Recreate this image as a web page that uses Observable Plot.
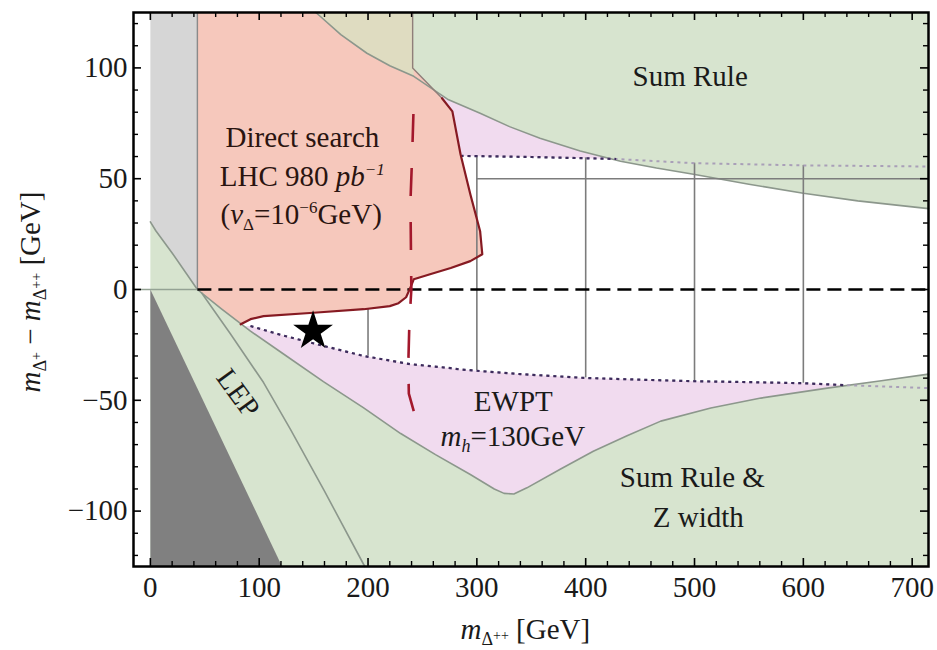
<!DOCTYPE html>
<html>
<head>
<meta charset="utf-8">
<script src="https://cdn.jsdelivr.net/npm/d3@7"></script>
<script src="https://cdn.jsdelivr.net/npm/@observablehq/plot@0.6"></script>
<style>
  body { margin: 0; background: #fff; }
</style>
</head>
<body>
<div id="chart"></div>
<script>
// Axis ranges (GeV)
const xRange = [-15.5, 715];
const yRange = [-125, 125];

// Sum Rule boundary (upper excluded region)
const sumRuleX = [152, 156, 175, 199, 220, 242, 273, 303, 330, 358, 395, 432, 465, 499, 550, 600, 650, 715];
const sumRuleY = [125, 123.3, 115, 106.6, 101, 96.2, 85.9, 79.5, 73.5, 68.3, 62.5, 57.9, 54.8, 52, 47.5, 43.4, 40, 36.5];

// Sum Rule & Z width boundary (lower excluded region)
const zWidthX = [0, 5, 20, 43.2, 65, 92, 125, 159, 196, 230, 262, 294, 316, 325, 334, 346, 377, 407, 438, 469, 515, 561, 622, 670, 715];
const zWidthY = [30.5, 26.5, 16.5, 0, -8.6, -18.8, -30, -41.6, -53.4, -65, -74.5, -83.5, -90, -92, -92.3, -89.5, -81, -73, -66, -59.4, -53.5, -49, -44.5, -41.3, -38.2];

// LEP bound
const lepX = [47, 73.5, 104, 128.6, 160, 197];
const lepY = [-1.5, -20, -42, -63, -91, -125];

// Unphysical corner (m_Δ+ < 0)
const darkX = [0, 121, 0];
const darkY = [0, -125, -125];

// Light gray strip
const stripX = [0, 43.2];

// EWPT (m_h = 130 GeV) upper and lower limits
const ewptUpX = [285, 350, 428, 500, 600, 715];
const ewptUpY = [60.3, 59.8, 58.9, 57, 56, 55.5];
const ewptUpEnd = 428;
const ewptLowX = [92, 120, 153, 196, 239, 276, 285, 340, 399, 450, 501, 550, 600, 640, 715];
const ewptLowY = [-16.5, -20.5, -24.7, -30, -33.7, -35.5, -36.1, -38.2, -39.9, -40.7, -41.4, -41.8, -42.3, -43.2, -44.5];
const ewptLowEnd = 640;

// Direct search, LHC 980 pb^-1 (v_Δ = 10^-6 GeV)
const searchTopX = [43.2, 241, 241];
const searchTopY = [125, 125, 100];
const searchX = [268, 277.5, 285, 294, 303, 305, 294, 276, 257, 242, 239.5, 235, 228, 220, 196, 150, 104, 92, 83];
const searchY = [86.3, 80.4, 61, 43, 26.3, 15.9, 12.8, 9.7, 6.9, 4.6, 1.5, -3.5, -6.2, -7.5, -8.9, -10.5, -12, -13.4, -15.7];

// Dashed search contour
const dashX = [241.7, 240.5, 239, 239.8, 238, 237, 237.5, 245.5];
const dashY = [79.2, 60, 39.8, 0, -15, -33.7, -47, -61];

// Grid of benchmark masses inside the allowed window
const gridX = [200, 300, 400, 500, 600];
const gridTop = [-8.9, 60.2, 59.4, 57, 56];
const gridBottom = [-30, -36.6, -39.9, -41.4, -42.3];
const gridLineY = 50;
const gridLineX = [300, 715];

// Benchmark point
const starX = [149.5];
const starY = [-18.8];

// Ticks
const xMajor = [0, 100, 200, 300, 400, 500, 600, 700];
const xMinor = d3.range(20, 715, 20).filter(v => v % 100 !== 0);
const yMajor = [-100, -50, 0, 50, 100];
const yMinor = d3.range(-120, 121, 10).filter(v => v % 50 !== 0);

// ---------------------------------------------------------------
const pts = (xs, ys) => xs.map((x, i) => ({x, y: ys[i]}));
const sumCurve = pts(sumRuleX, sumRuleY);
const lowCurve = pts(zWidthX, zWidthY);
const searchLine = pts(searchX, searchY);
const ewptUp = pts(ewptUpX, ewptUpY);
const ewptLow = pts(ewptLowX, ewptLowY);
const [X0, X1] = xRange, [Y0, Y1] = yRange;

const pinkUpper = [{x: 241, y: ewptUpY[0]}, ...ewptUp, {x: X1, y: Y1}, {x: 241, y: Y1}];
const pinkLower = [{x: 85, y: ewptLowY[0]}, ...ewptLow, {x: X1, y: Y0}, {x: 85, y: Y0}];
const greenUpper = [...sumCurve, {x: X1, y: Y1}];
const greenLower = [...lowCurve, {x: X1, y: Y0}, {x: 0, y: Y0}];
const searchEnd = searchX[searchX.length - 1];
const redRegion = [
  ...pts(searchTopX, searchTopY),
  ...searchLine,
  ...lowCurve.filter(p => p.x > stripX[1] && p.x < searchEnd).reverse(),
  {x: stripX[1], y: 0}
];
const overlap = [{x: searchTopX[1], y: Y1}, ...sumCurve.filter(p => p.x <= searchTopX[1] + 1).reverse()];
const grayStrip = [
  {x: stripX[0], y: Y1}, {x: stripX[1], y: Y1}, {x: stripX[1], y: 0},
  ...lowCurve.filter(p => p.x > stripX[0] && p.x < stripX[1]).reverse(),
  lowCurve[0]
];
const darkRegion = pts(darkX, darkY);
const gridRows = gridX.map((x, i) => ({x, y1: gridTop[i], y2: gridBottom[i]}));

const W = 937, H = 650, mL = 133, mR = 9, mT = 12, mB = 84;
const kx = (W - mL - mR) / (X1 - X0);
const ky = (H - mT - mB) / (Y1 - Y0);
const big = 8, small = 5;

const FONT = "'Liberation Serif', 'Times New Roman', serif";
const GREEN = "#d7e4cf", PINK = "#f1dbef", SALMON = "#f6c8bc", OLIVE = "#dfdcc1";
const LGRAY = "#d6d6d6", DGRAY = "#808080", EDGE = "#8c978c";
const MAROON = "#861a22", CRIMSON = "#a3182c", NAVY = "#3d2b5c";

const poly = (data, fill) => Plot.line(data, {x: "x", y: "y", fill, stroke: "none", curve: "linear-closed"});
const path = (data, o) => Plot.line(data, {x: "x", y: "y", ...o});

const plot = Plot.plot({
  width: W, height: H,
  marginLeft: mL, marginRight: mR, marginTop: mT, marginBottom: mB,
  x: {domain: xRange},
  y: {domain: yRange},
  style: {fontFamily: FONT, fontSize: "29px", background: "white", color: "#1a1a1a"},
  marks: [
    // filled regions
    poly(pinkUpper, PINK),
    poly(pinkLower, PINK),
    poly(greenUpper, GREEN),
    poly(greenLower, GREEN),
    poly(redRegion, SALMON),
    poly(overlap, OLIVE),
    poly(grayStrip, LGRAY),
    poly(darkRegion, DGRAY),

    // region boundaries
    path(sumCurve, {stroke: EDGE, strokeWidth: 1.6}),
    path(lowCurve, {stroke: EDGE, strokeWidth: 1.6}),
    path(pts(lepX, lepY), {stroke: EDGE, strokeWidth: 1.6}),
    path(pts([stripX[1], stripX[1]], [0, Y1]), {stroke: "#8a8a8a", strokeWidth: 1.4}),
    path(pts([searchTopX[1], searchTopX[2], searchX[0]], [Y1, searchTopY[2], searchY[0]]), {stroke: "#8f7f7a", strokeWidth: 1.4}),
    path(pts([X0, stripX[1]], [0, 0]), {stroke: "#94a294", strokeWidth: 1.4}),

    // benchmark grid
    Plot.ruleX(gridRows, {x: "x", y1: "y1", y2: "y2", stroke: "#7c7c7c", strokeWidth: 1.6}),
    Plot.ruleY([gridLineY], {x1: gridLineX[0], x2: gridLineX[1], stroke: "#7c7c7c", strokeWidth: 1.6}),

    // EWPT limits (faint where hidden by the sum-rule regions)
    path(ewptUp, {stroke: "#a99fb8", strokeWidth: 2, strokeDasharray: "3,4", strokeLinecap: "butt"}),
    path(ewptLow, {stroke: "#a99fb8", strokeWidth: 2, strokeDasharray: "3,4", strokeLinecap: "butt"}),
    path(ewptUp.filter(p => p.x <= ewptUpEnd), {stroke: NAVY, strokeWidth: 2.2, strokeDasharray: "3,4", strokeLinecap: "butt"}),
    path(ewptLow.filter(p => p.x <= ewptLowEnd), {stroke: NAVY, strokeWidth: 2.2, strokeDasharray: "3,4", strokeLinecap: "butt"}),

    // m_Δ+ = m_Δ++ line
    path(pts([stripX[1], X1], [0, 0]), {stroke: "black", strokeWidth: 2.5, strokeDasharray: "14,7", strokeLinecap: "butt"}),

    // direct search contours
    path(searchLine, {stroke: MAROON, strokeWidth: 2.2}),
    path(pts(dashX, dashY), {stroke: CRIMSON, strokeWidth: 2.6, strokeDasharray: "28,26", strokeLinecap: "butt"}),

    // benchmark point
    Plot.dot(pts(starX, starY), {x: "x", y: "y", symbol: "star", r: 12.5, fill: "black", stroke: "none"}),

    // region labels
    Plot.text(["Sum Rule"], {x: 496, y: 95.8, text: d => d, fill: "#1a1a1a"}),
    Plot.text(["Direct search"], {x: 139.7, y: 68.7, text: d => d, fill: "#2a1410"}),
    Plot.text(["EWPT"], {x: 333.5, y: -50.8, text: d => d, fill: "#1a1a1a"}),
    Plot.text(["Sum Rule &"], {x: 498, y: -85.1, text: d => d, fill: "#1a1a1a"}),
    Plot.text(["Z width"], {x: 503.5, y: -103.2, text: d => d, fill: "#1a1a1a"}),
    Plot.text(["LEP"], {x: 80.5, y: -46.8, text: d => d, rotate: 54, fill: "#1a1a1a"}),

    // frame
    Plot.frame({stroke: "black", strokeWidth: 2.5}),

    // inward ticks on all four sides
    Plot.ruleX(xMajor, {x: d => d, y1: Y0, y2: Y0 + big / ky, stroke: "black", strokeWidth: 1.6}),
    Plot.ruleX(xMinor, {x: d => d, y1: Y0, y2: Y0 + small / ky, stroke: "black", strokeWidth: 1.4}),
    Plot.ruleX(xMajor, {x: d => d, y1: Y1, y2: Y1 - big / ky, stroke: "black", strokeWidth: 1.6}),
    Plot.ruleX(xMinor, {x: d => d, y1: Y1, y2: Y1 - small / ky, stroke: "black", strokeWidth: 1.4}),
    Plot.ruleY(yMajor, {y: d => d, x1: X0, x2: X0 + big / kx, stroke: "black", strokeWidth: 1.6}),
    Plot.ruleY(yMinor, {y: d => d, x1: X0, x2: X0 + small / kx, stroke: "black", strokeWidth: 1.4}),
    Plot.ruleY(yMajor, {y: d => d, x1: X1, x2: X1 - big / kx, stroke: "black", strokeWidth: 1.6}),
    Plot.ruleY(yMinor, {y: d => d, x1: X1, x2: X1 - small / kx, stroke: "black", strokeWidth: 1.4}),

    // tick labels
    Plot.axisX({ticks: xMajor, tickSize: 0, tickPadding: 10, label: null, fill: "#1a1a1a"}),
    Plot.axisY({ticks: yMajor, tickSize: 0, tickPadding: 6, label: null, fill: "#1a1a1a"})
  ]
});

document.getElementById("chart").appendChild(plot);

// Labels with sub- and superscripts
const sx = plot.scale("x"), sy = plot.scale("y");
const svg = d3.select(plot);

function rich(x, y, parts, {anchor = "middle", rotate = 0, size = 29} = {}) {
  const g = svg.append("g").attr("transform", `translate(${x},${y}) rotate(${rotate})`);
  const t = g.append("text")
    .attr("text-anchor", anchor)
    .attr("font-family", FONT)
    .attr("font-size", size)
    .attr("fill", "#1a1a1a");
  let cur = 0;
  for (const p of parts) {
    const [txt, o = {}] = Array.isArray(p) ? p : [p];
    const shift = o.shift || 0;
    const ts = t.append("tspan").text(txt).attr("dy", cur - shift);
    if (o.italic) ts.attr("font-style", "italic");
    if (o.size) ts.attr("font-size", o.size);
    cur = shift;
  }
  return t;
}

const mid = 9.6; // baseline offset from the visual centre of capitals
rich(sx.apply(140), sy.apply(50.7) + mid, [
  "LHC 980 ", ["pb", {italic: true}], ["\u22121", {shift: 11, size: 17, italic: true}]
]).attr("fill", "#2a1410");
rich(sx.apply(139), sy.apply(33.5) + mid, [
  "(", ["v", {italic: true}], ["\u0394", {shift: -6, size: 17}], ["=10", {shift: 0}],
  ["\u22126", {shift: 11, size: 17}], ["GeV)", {shift: 0}]
]).attr("fill", "#2a1410");
rich(sx.apply(333.5), sy.apply(-66.6) + mid, [
  ["m", {italic: true}], ["h", {italic: true, shift: -6, size: 18}], ["=130GeV", {shift: 0}]
]);

// axis titles
rich(sx.apply(345), 639, [
  ["m", {italic: true}], ["\u0394", {shift: -6, size: 18}], ["++", {shift: -1, size: 14}], [" [GeV]", {shift: 0}]
], {size: 29});
rich(40, 292, [
  ["m", {italic: true}], ["\u0394", {shift: -6, size: 18}], ["+", {shift: -1, size: 14}],
  [" \u2212 ", {shift: 0}],
  ["m", {italic: true}], ["\u0394", {shift: -6, size: 18}], ["++", {shift: -1, size: 14}],
  [" [GeV]", {shift: 0}]
], {rotate: -90, size: 29});
</script>
</body>
</html>
